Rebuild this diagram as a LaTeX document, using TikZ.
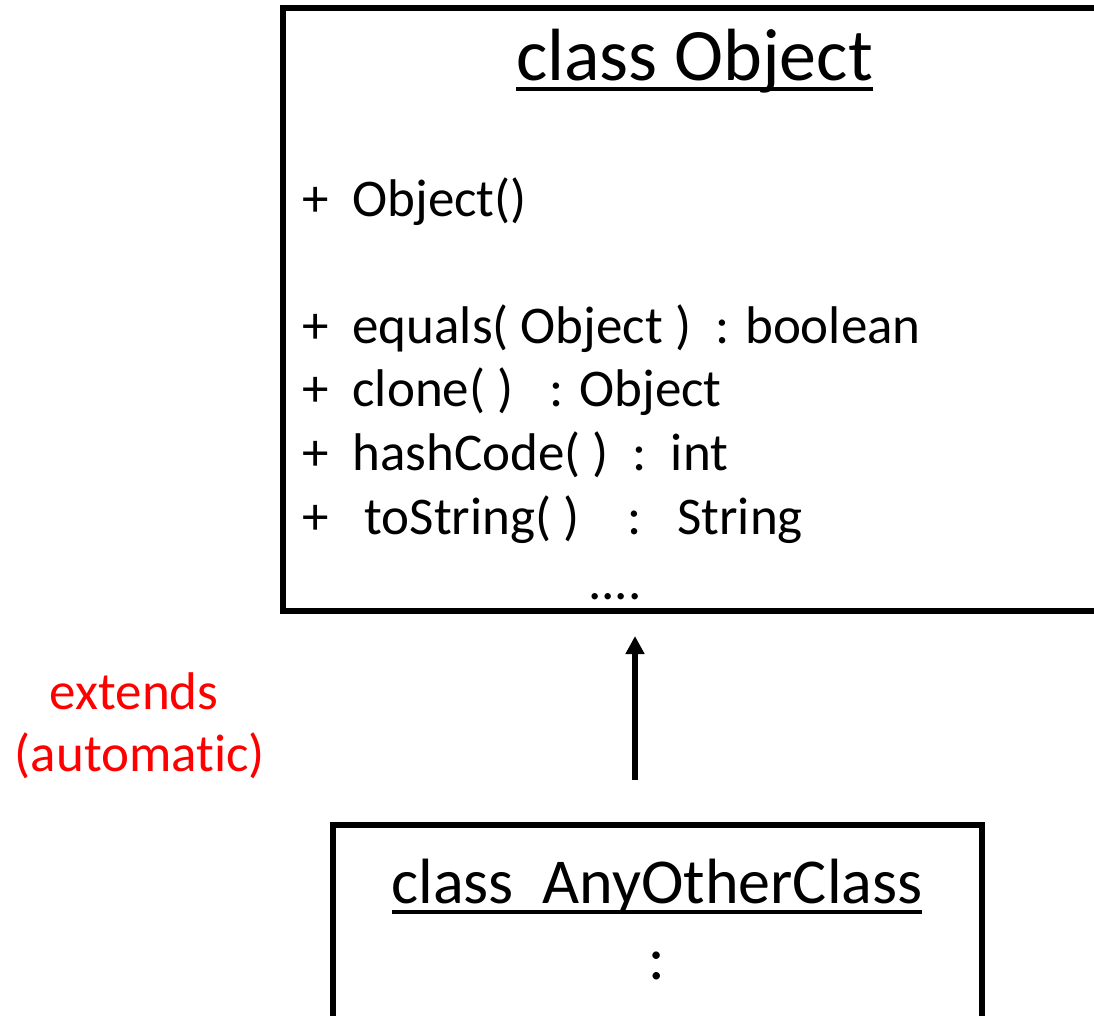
\documentclass[tikz,border=0pt]{standalone}
\usepackage{fontspec}
\setmainfont{Carlito}[Ligatures={NoCommon}]
\usetikzlibrary{arrows.meta}
\definecolor{extred}{RGB}{255,0,0}
% underline that runs through descenders, as in slide software
\newcommand\ulin[1]{\setbox0\hbox{#1}\rlap{\rule[-11pt]{\wd0}{4pt}}\box0}
\tikzset{
  classbox/.style={draw, line width=6pt, rectangle, inner sep=0pt},
  title/.style={anchor=base, inner sep=0pt, font=\fontsize{74}{80}\selectfont},
  subtitle/.style={anchor=base, inner sep=0pt, font=\fontsize{64}{70}\selectfont},
  member/.style={anchor=base west, inner sep=0pt, font=\fontsize{53}{60}\selectfont},
  note/.style={anchor=base, inner sep=0pt, text=extred, font=\fontsize{53}{60}\selectfont},
  inherit/.style={line width=6pt, -{Triangle[width=18pt,length=18pt]}}
}
\begin{document}
\begin{tikzpicture}[x=1pt,y=-1pt]
\useasboundingbox (0,0) rectangle (1094,1015);
\clip (0,0) rectangle (1094,1015);

% class Object
\node[classbox, minimum width=823pt, minimum height=603pt] (obj) at (694.5,309.5) {};
\node[title] (objname) at (694.5,80) {\ulin{class Object}};
\node[member] (m1) at (302,216) {+\ \ Object()};
\node[member] (m2) at (302,343) {+\ \ equals( Object )\ \ : boolean};
\node[member] (m3) at (302,406) {+\ \ clone( )\ \ \ : Object};
\node[member] (m4) at (302,470) {+\ \ hashCode( )\ \ :\ \ int};
\node[member] (m5) at (302,534) {+\ \ \ toString( )\ \ \ \ :\ \ \ String};
\node[anchor=base, inner sep=0pt, font=\fontsize{53}{60}\selectfont] (more) at (615,599) {....};

% class AnyOtherClass
\node[classbox, minimum width=649pt, minimum height=215pt] (sub) at (657.5,932.5) {};
\node[subtitle] (subname) at (657,903) {\ulin{class\ \ AnyOtherClass}};
\node[anchor=base, inner sep=0pt, font=\fontsize{62}{70}\selectfont] (subdots) at (657,979) {:};

% inheritance arrow
\coordinate (foot) at (635,780);
\draw[inherit, shorten >=22pt] (foot) -- (foot |- obj.south);

% label
\node[note] (ext1) at (134,709) {extends};
\node[note] (ext2) at (140,771) {(automatic)};
\end{tikzpicture}
\end{document}
